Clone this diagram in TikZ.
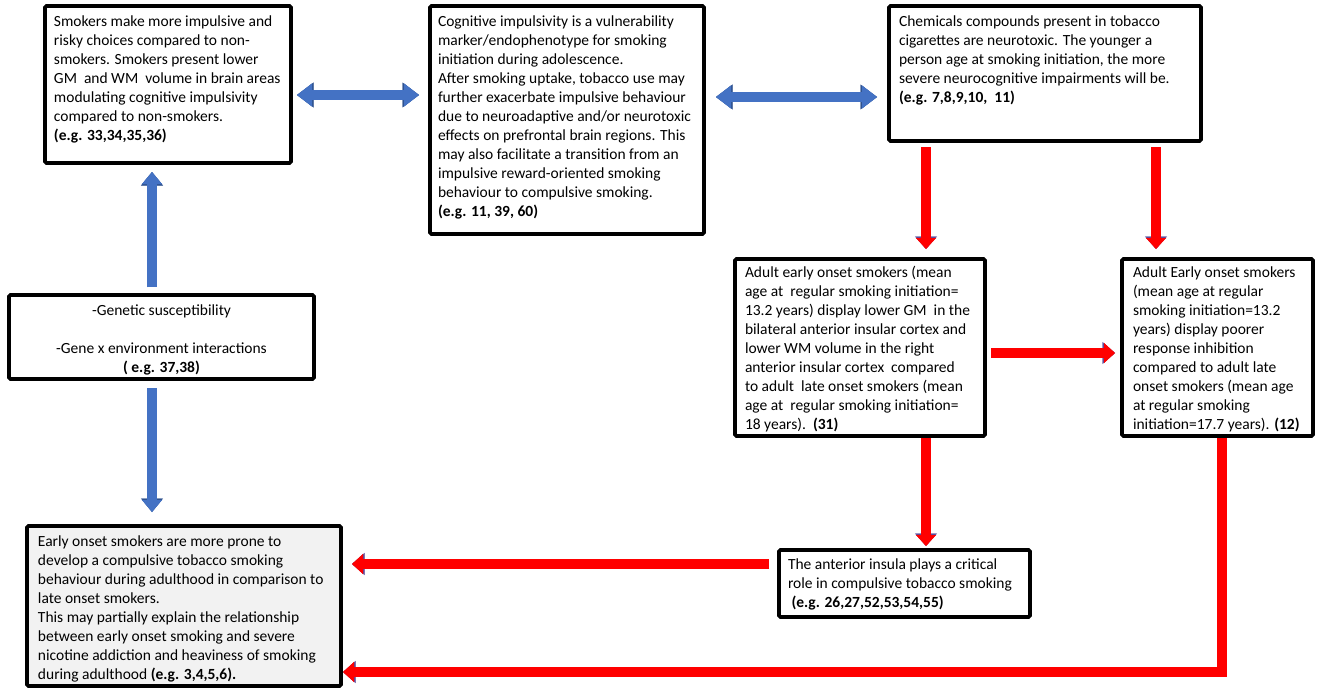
\documentclass[tikz,border=0pt]{standalone}
\usepackage{fontspec}
\setmainfont{Carlito}
\usetikzlibrary{arrows.meta,calc}
\definecolor{oblue}{HTML}{4472C4}
\definecolor{oblueline}{HTML}{2F528F}
\definecolor{redline}{HTML}{5B4A9A}
\definecolor{boxgray}{HTML}{F2F2F2}
\newcommand\bcont[5]{\parbox[c][#2pt][t]{#1pt}{\vspace*{#4pt}\hspace*{#3pt}\begin{tabular}[t]{@{}l@{}}#5\end{tabular}}}
\newcommand\ccont[4]{\parbox[c][#2pt][t]{#1pt}{\vspace*{#3pt}\centering\begin{tabular}[t]{@{}c@{}}#4\end{tabular}\par}}
\tikzset{
  box/.style={draw=black, line width=3.6pt, rounded corners=1.5pt, fill=white, inner sep=0pt, outer sep=0pt, anchor=north west},
  redarr/.style={draw=red, line width=9.5pt, line join=miter,
    -{Triangle[width=20pt,length=11pt,line width=0.4pt]},
    preaction={draw=redline, line width=10.8pt, line join=miter, -{Triangle[width=22pt,length=12.5pt,line width=0.4pt]}}},
  bluearr/.style={draw=oblue, line width=9.5pt,
    -{Triangle[width=20pt,length=12pt,line width=0.4pt]},
    preaction={draw=oblueline, line width=10.8pt, -{Triangle[width=22pt,length=13.5pt,line width=0.4pt]}}},
  bluedbl/.style={draw=oblue, line width=9.5pt,
    {Triangle[width=23pt,length=15pt,line width=0.4pt]}-{Triangle[width=23pt,length=15pt,line width=0.4pt]},
    preaction={draw=oblueline, line width=10.8pt, {Triangle[width=25pt,length=16.5pt,line width=0.4pt]}-{Triangle[width=25pt,length=16.5pt,line width=0.4pt]}}}
}
\begin{document}
\begin{tikzpicture}[x=1pt,y=-1pt,font=\fontsize{15.5}{19}\selectfont]
\useasboundingbox (0,0) rectangle (1325,694);

\node[box] (A) at (45,6) {\bcont{246}{157}{9}{7.2}{Smokers make more impulsive and\\ risky choices compared to non-\\ smokers. Smokers present lower\\ GM\ \ and WM\ \ volume in brain areas\\ modulating cognitive impulsivity\\ compared to non-smokers.\\ \textbf{(e.g. 33,34,35,36)}}};

\node[box] (B) at (430,6) {\bcont{274}{228}{8}{7.2}{Cognitive impulsivity is a vulnerability\\ marker/endophenotype for smoking\\ initiation during adolescence.\\ After smoking uptake, tobacco use may\\ further exacerbate impulsive behaviour\\ due to neuroadaptive and/or neurotoxic\\ effects on prefrontal brain regions. This\\ may also facilitate a transition from an\\ impulsive reward-oriented smoking\\ behaviour to compulsive smoking.\\ \textbf{(e.g. 11, 39, 60)}}};

\node[box] (C) at (889,6) {\bcont{312}{135}{10}{7.2}{Chemicals compounds present in tobacco\\ cigarettes are neurotoxic. The younger a\\ person age at smoking initiation, the more\\ severe neurocognitive impairments will be.\\ \textbf{(e.g. 7,8,9,10,\ \ 11)}}};

\node[box] (D) at (735,259) {\bcont{250}{177}{10}{5.2}{Adult early onset smokers (mean\\ age at\ \ regular smoking initiation=\\ 13.2 years) display lower GM\ \ in the\\ bilateral anterior insular cortex and\\ lower WM volume in the right\\ anterior insular cortex\ \ compared\\ to adult\ \ late onset smokers (mean\\ age at\ \ regular smoking initiation=\\ 18 years).\ \ \textbf{(31)}}};

\node[box] (E) at (1122,259) {\bcont{191}{177}{11}{5.2}{Adult Early onset smokers\\ (mean age at regular\\ smoking initiation=13.2\\ years) display poorer\\ response inhibition\\ compared to adult late\\ onset smokers (mean age\\ at regular smoking\\ initiation=17.7 years). \textbf{(12)}}};

\node[box] (F) at (9,295) {\ccont{305}{84}{7.2}{-Genetic susceptibility\\ \\ -Gene x environment interactions\\ \textbf{( e.g. 37,38)}}};

\node[box, fill=boxgray] (G) at (27,526) {\bcont{314}{160}{11}{7.2}{Early onset smokers are more prone to\\ develop a compulsive tobacco smoking\\ behaviour during adulthood in comparison to\\ late onset smokers.\\ This may partially explain the relationship\\ between early onset smoking and severe\\ nicotine addiction and heaviness of smoking\\ during adulthood \textbf{(e.g. 3,4,5,6).}}};

\node[box] (H) at (779,550) {\bcont{251}{67}{9}{6.2}{The anterior insula plays a critical\\ role in compulsive tobacco smoking\\ \ \textbf{(e.g. 26,27,52,53,54,55)}}};

\coordinate (ya) at (0,95);
\coordinate (yb) at (0,97);
\coordinate (xc1) at (926,0);
\coordinate (xc2) at (1156,0);
\coordinate (yde) at (0,353);
\coordinate (yhg) at (0,564);
\coordinate (xe) at (1222,0);
\coordinate (ybot) at (0,672);
\coordinate (xf) at (152,0);

\draw[bluedbl] ($(A.east|-ya)+(6,0)$) -- ($(B.west|-ya)+(-11,0)$);
\draw[bluedbl] ($(B.east|-yb)+(12,0)$) -- ($(C.west|-yb)+(-12,0)$);
\draw[redarr] ($(C.south-|xc1)+(0,6)$) -- ($(D.north-|xc1)+(0,-10)$);
\draw[redarr] ($(C.south-|xc2)+(0,6)$) -- ($(E.north-|xc2)+(0,-10)$);
\draw[redarr] ($(D.east|-yde)+(6,0)$) -- ($(E.west|-yde)+(-7,0)$);
\draw[redarr] ($(D.south-|xc1)+(0,2)$) -- ($(H.north-|xc1)+(0,-4)$);
\draw[redarr] ($(H.west|-yhg)+(-10,0)$) -- ($(G.east|-yhg)+(11,0)$);
\draw[redarr] ($(E.south-|xe)+(0,2)$) |- ($(G.east|-ybot)+(2,0)$);
\draw[bluearr] ($(F.north-|xf)+(0,-8)$) -- ($(A.south-|xf)+(0,9)$);
\draw[bluearr] ($(F.south-|xf)+(0,9)$) -- ($(G.north-|xf)+(0,-14)$);
\end{tikzpicture}
\end{document}
